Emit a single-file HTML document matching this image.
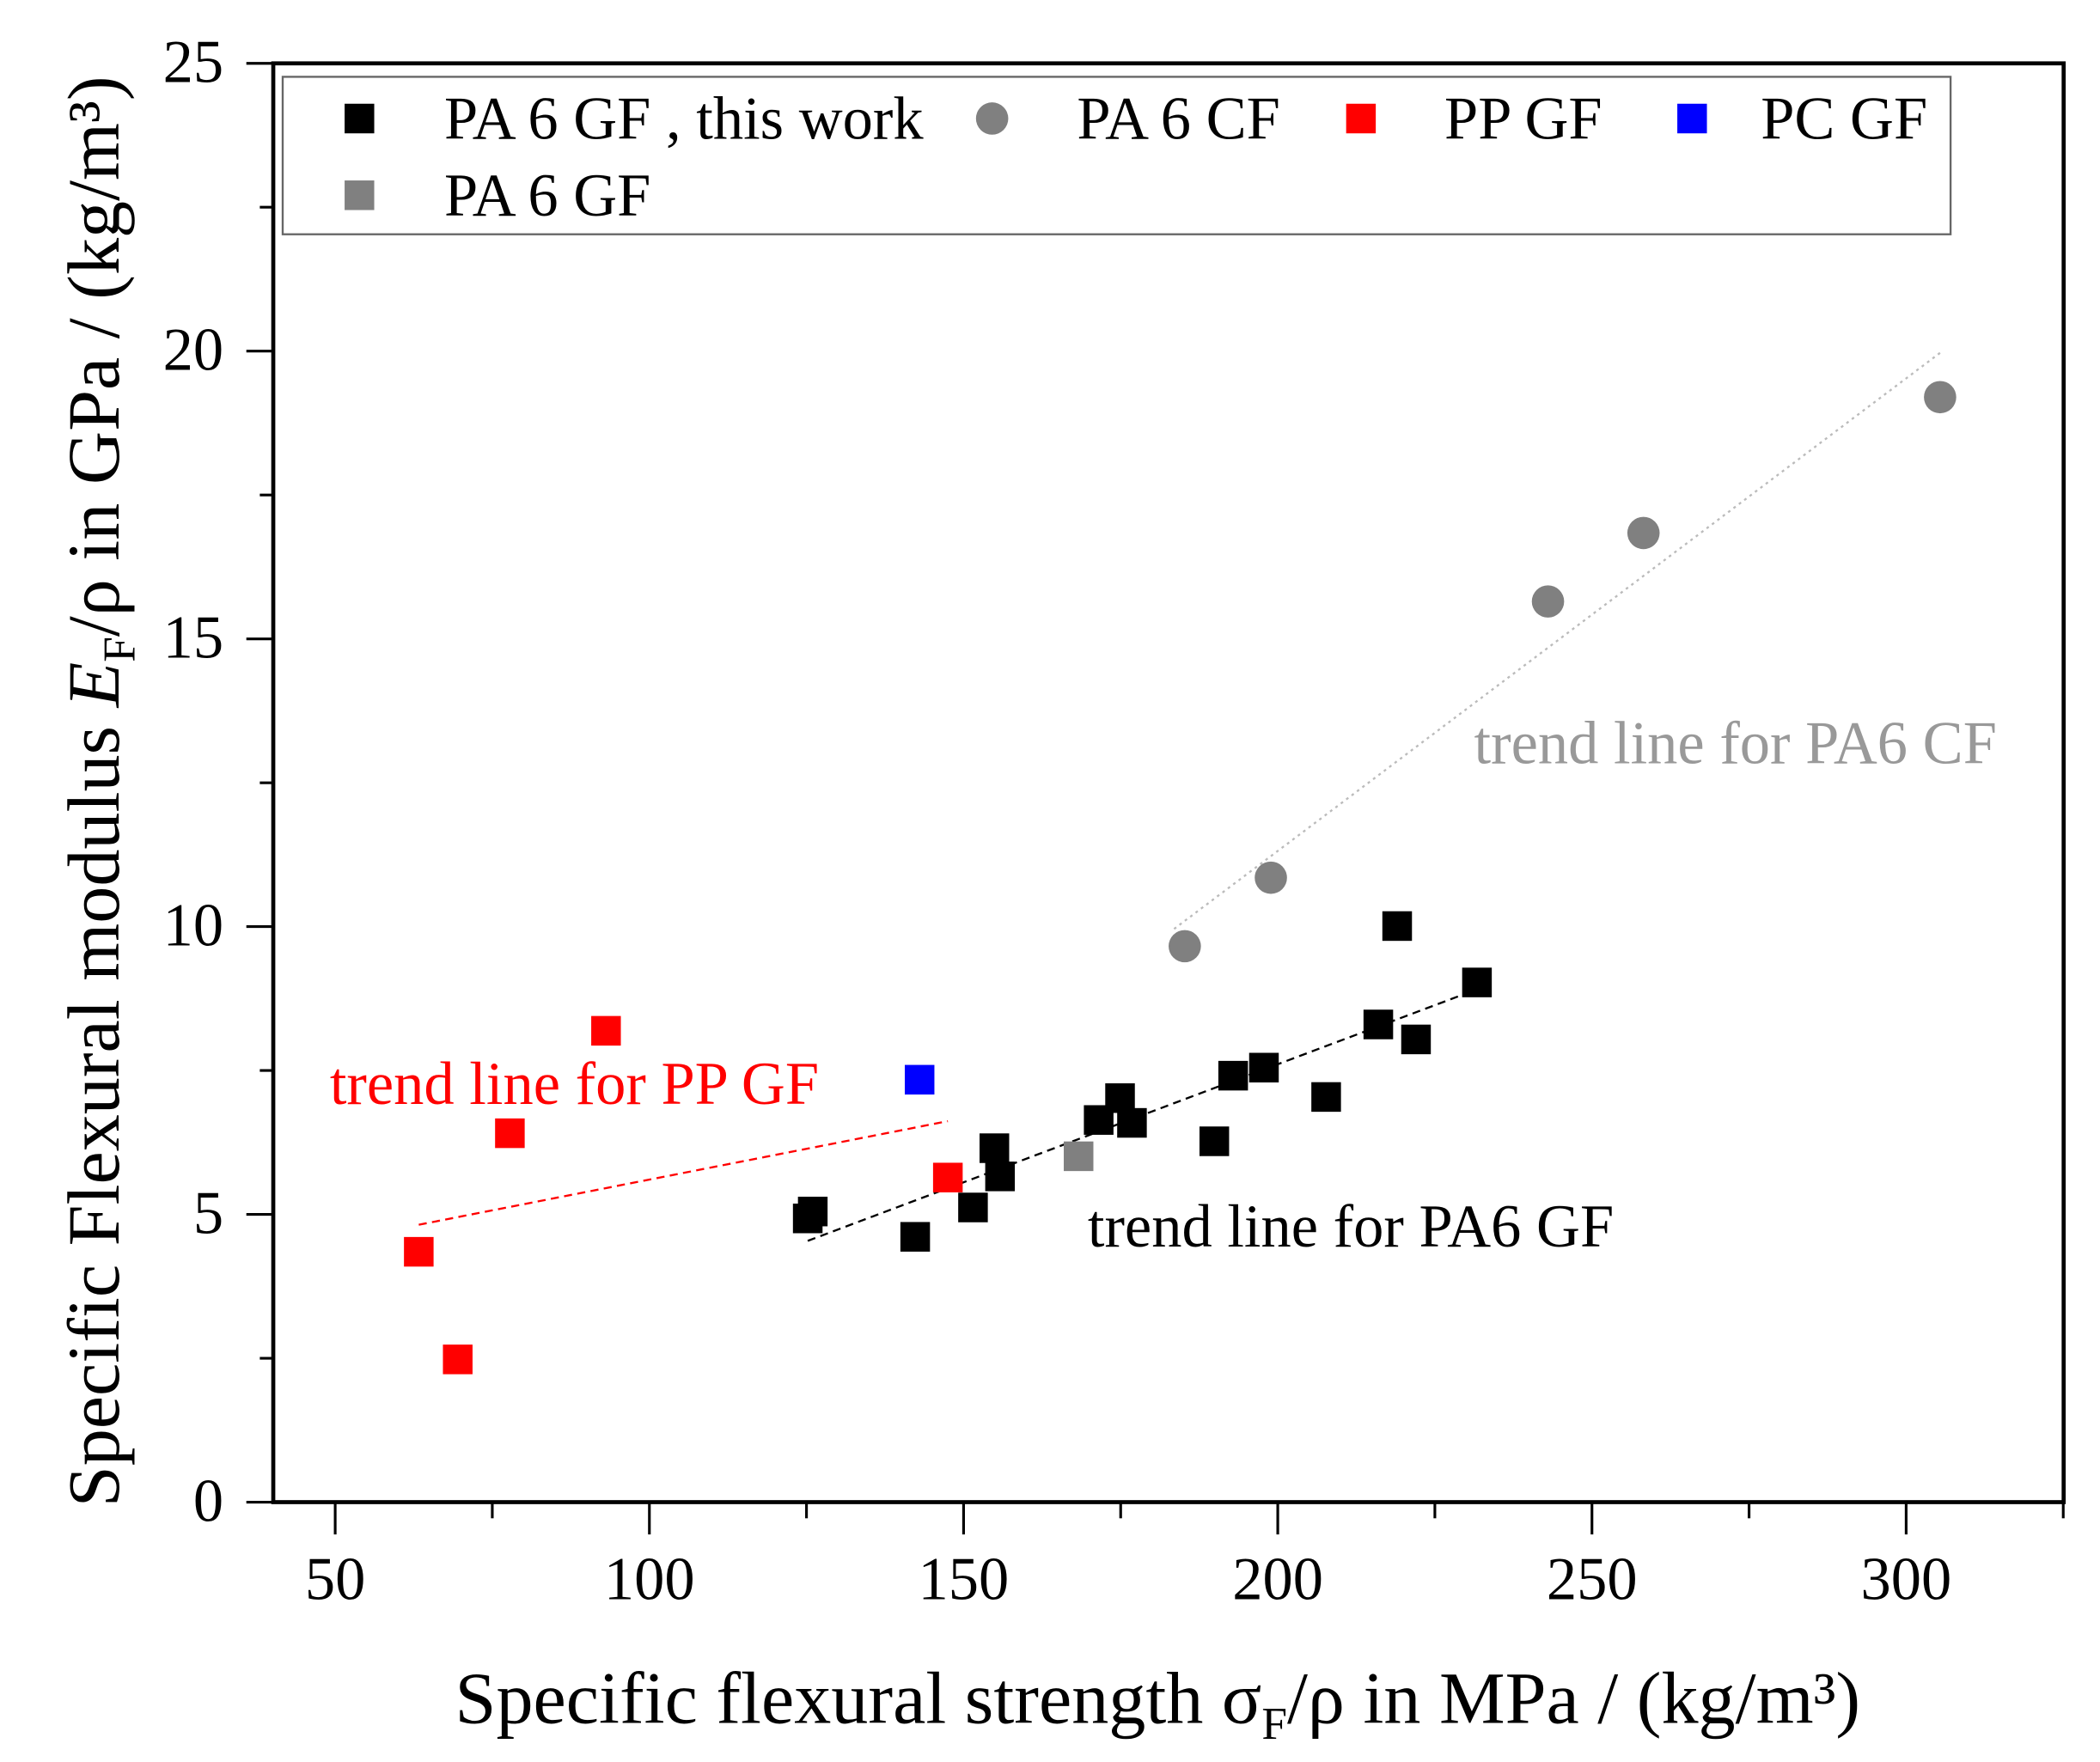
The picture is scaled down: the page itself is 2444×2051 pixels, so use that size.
<!DOCTYPE html>
<html><head><meta charset="utf-8"><style>
html,body{margin:0;padding:0;background:#fff}
svg{display:block}
text{font-family:"Liberation Serif",serif}
</style></head><body>
<svg id="chart" width="2444" height="2051" viewBox="0 0 1560 1309" xmlns="http://www.w3.org/2000/svg">
<g id="marks"></g>
</svg>
<script>
const paGfX=[125.2,126.0,142.3,151.5,154.9,155.8,171.5,174.9,176.8,189.9,192.9,197.8,207.7,216.0,219.0,222.0,231.7];
const paGfY=[4.93,5.05,4.61,5.12,6.15,5.66,6.64,7.02,6.59,6.27,7.41,7.55,7.04,8.30,10.01,8.04,9.03];
const paCfX=[185.2,198.9,243.0,258.2,305.4];
const paCfY=[9.66,10.85,15.65,16.84,19.20];
const ppGfX=[63.3,69.5,77.8,93.1,147.5];
const ppGfY=[4.35,2.48,6.41,8.19,5.64];
const pcGfX=[143.0];
const pcGfY=[7.34];
const paGfLitX=[168.3];
const paGfLitY=[6.01];
const trendGfX=[125.2,231.7], trendGfY=[4.54,8.91];
const trendPpX=[63.3,147.5], trendPpY=[4.82,6.62];
const trendCfX=[183.5,305.4], trendCfY=[9.96,19.97];
const xTicks=[50,100,150,200,250,300];
const yTicks=[0,5,10,15,20,25];

const L=203,R=1533,T=47,B=1116;
const xs=v=>249+(v-50)*4.668;
const ys=v=>1116-v*42.76;
const NS="http://www.w3.org/2000/svg";
const g=document.getElementById('marks');
function mk(tag,attrs,parent){const e=document.createElementNS(NS,tag);for(const k in attrs)e.setAttribute(k,attrs[k]);(parent||g).appendChild(e);return e;}

for(let v=50;v<=325;v+=25){
  const major=v%50===0;
  const t=mk('line',{x1:xs(v),x2:xs(v),y1:B,y2:B+(major?24:12),stroke:'#000','stroke-width':2});
  
  
}
for(let v=0;v<=25;v+=2.5){
  const major=v%5===0;
  const t=mk('line',{x1:L-(major?20:10),x2:L,y1:ys(v),y2:ys(v),stroke:'#000','stroke-width':2});
  
  
}
xTicks.forEach(v=>{
  const t=mk('text',{x:xs(v),y:1188,'font-size':45,'text-anchor':'middle'});
  t.textContent=v;
  
  
});
yTicks.forEach(v=>{
  const t=mk('text',{x:166,y:ys(v)+14,'font-size':45,'text-anchor':'end'});
  t.textContent=v;
  
  
});
const fr=mk('rect',{x:L,y:T,width:R-L,height:B-T,fill:'none',stroke:'#000','stroke-width':3});



function tl(X,Y,col,dash,name){
  const l=mk('line',{x1:xs(X[0]),y1:ys(Y[0]),x2:xs(X[1]),y2:ys(Y[1]),stroke:col,'stroke-width':1.5,'stroke-dasharray':dash});
  
  
}
tl(trendGfX,trendGfY,'#000','6,4','trend-line-pa6-gf');
tl(trendPpX,trendPpY,'#f00','6,4','trend-line-pp-gf');
tl(trendCfX,trendCfY,'#bbb','2,3','trend-line-pa6-cf');

function squares(X,Y,col,name){
  X.forEach((v,i)=>{
    const r=mk('rect',{x:xs(v)-11,y:ys(Y[i])-11,width:22,height:22,fill:col});
    
    
  });
}
squares(ppGfX,ppGfY,'#f00','pp-gf-point');
squares(pcGfX,pcGfY,'#00f','pc-gf-point');
squares(paGfLitX,paGfLitY,'#808080','pa6-gf-point');
squares(paGfX,paGfY,'#000','pa6-gf-this-work-point');
paCfX.forEach((v,i)=>{
  const c=mk('circle',{cx:xs(v),cy:ys(paCfY[i]),r:12,fill:'#808080'});
  
  
});
</script>
<script>
(function(){
const NS="http://www.w3.org/2000/svg";
const svg=document.getElementById('chart');
function mk(tag,attrs){const e=document.createElementNS(NS,tag);for(const k in attrs)e.setAttribute(k,attrs[k]);svg.appendChild(e);return e;}
const lg=mk('rect',{x:210,y:57,width:1239,height:117,fill:'#fff',stroke:'#666','stroke-width':1.5});


const items=[['sq','#000',267,88,330,'PA 6 GF , this work'],['ci','#808080',737,88,800,'PA 6 CF'],['sq','#f00',1011,88,1073,'PP GF'],['sq','#00f',1257,88,1308,'PC GF'],['sq','#808080',267,145,330,'PA 6 GF']];
items.forEach(it=>{
  let m;
  if(it[0]==='sq') m=mk('rect',{x:it[2]-11,y:it[3]-11,width:22,height:22,fill:it[1]});
  else m=mk('circle',{cx:it[2],cy:it[3],r:12,fill:it[1]});
  
  
  const t=mk('text',{x:it[4],y:it[3]+15,'font-size':45});
  t.textContent=it[5];
  
  
});
const ann=[[1095,567,'#999','trend line for PA6 CF','annotation-pa6-cf'],[245,820,'#f00','trend line for PP GF','annotation-pp-gf'],[808,926,'#000','trend line for PA6 GF','annotation-pa6-gf']];
ann.forEach(a=>{
  const t=mk('text',{x:a[0],y:a[1],'font-size':45,fill:a[2]});
  t.textContent=a[3];
  
  
});
const xt=mk('text',{x:860,y:1280,'font-size':55,'text-anchor':'middle'});
xt.innerHTML='Specific flexural strength σ<tspan font-size="34" dy="12">F</tspan><tspan dy="-12">/ρ in MPa / (kg/m³)</tspan>';


const yt=mk('text',{x:0,y:0,'font-size':55,'text-anchor':'middle',transform:'translate(88,588) rotate(-90)'});
yt.innerHTML='Specific Flexural modulus <tspan font-style="italic">E</tspan><tspan font-size="34" dy="12">F</tspan><tspan dy="-12">/ρ in GPa / (kg/m³)</tspan>';


})();
</script>
</body></html>
